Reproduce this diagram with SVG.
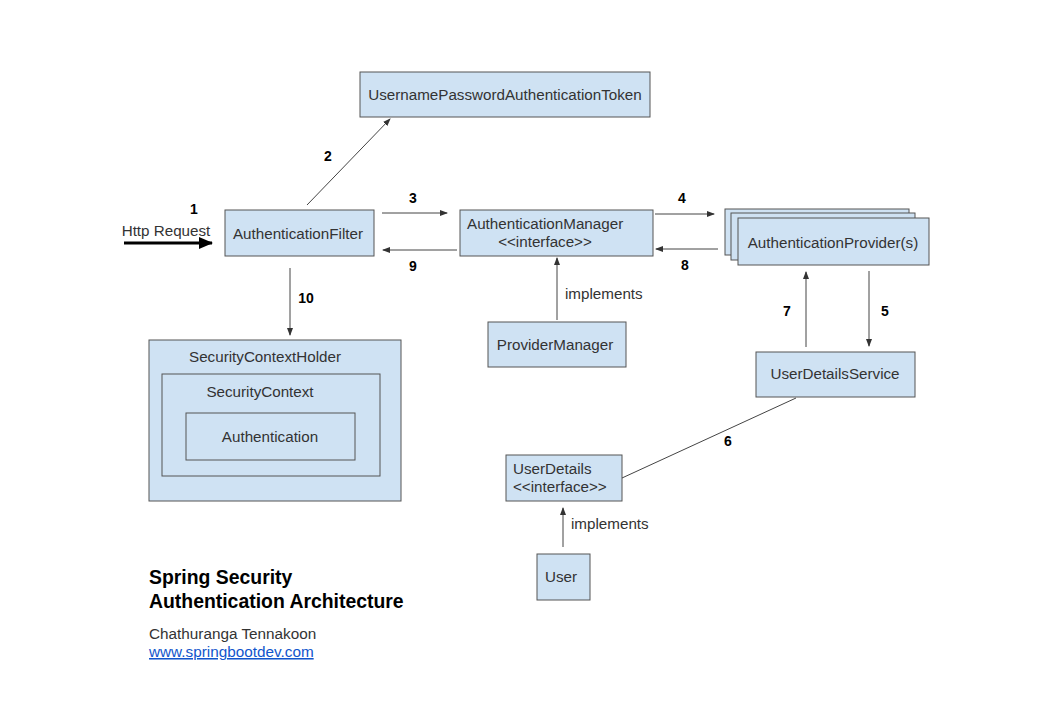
<svg xmlns="http://www.w3.org/2000/svg" width="1041" height="715" viewBox="0 0 1041 715">
<defs>
<marker id="ah" markerWidth="8" markerHeight="6" refX="7" refY="3" orient="auto" markerUnits="userSpaceOnUse">
<path d="M0,0 L8,3 L0,6 Z" fill="#333"/>
</marker>
<marker id="ahb" markerWidth="14" markerHeight="12" refX="13" refY="6" orient="auto" markerUnits="userSpaceOnUse">
<path d="M0,0 L14,6 L0,12 Z" fill="#000"/>
</marker>
<style>
.box{fill:#cfe2f3;stroke:#555;stroke-width:1}
.t{font-family:"Liberation Sans",Arial,sans-serif;font-size:15.2px;fill:#333}
.c{text-anchor:middle}
.n{font-family:"Liberation Sans",Arial,sans-serif;font-size:14px;font-weight:bold;fill:#000;text-anchor:middle}
.ln{stroke:#444;stroke-width:1;fill:none}
.h{font-family:"Liberation Sans",Arial,sans-serif;font-size:19.4px;font-weight:bold;fill:#000}
.s{font-family:"Liberation Sans",Arial,sans-serif;font-size:15.3px;fill:#333}
</style>
</defs>
<rect width="1041" height="715" fill="#fff"/>

<g id="token">
<rect class="box" x="360" y="72" width="290" height="45"/>
<text class="t c" x="505" y="100">UsernamePasswordAuthenticationToken</text>
</g>
<g id="authFilter">
<rect class="box" x="225" y="210" width="149" height="46"/>
<text class="t c" x="298" y="239">AuthenticationFilter</text>
</g>
<g id="authManager">
<rect class="box" x="460" y="210" width="193" height="46"/>
<text class="t" x="467" y="229">AuthenticationManager</text>
<text class="t c" x="545" y="247">&lt;&lt;interface&gt;&gt;</text>
</g>
<g id="authProvider">
<rect class="box" x="725" y="209" width="184" height="46"/>
<rect class="box" x="731" y="213" width="184" height="47"/>
<rect class="box" x="738" y="218" width="191" height="47"/>
<text class="t c" x="833" y="248">AuthenticationProvider(s)</text>
</g>
<g id="providerManager">
<rect class="box" x="488" y="322" width="138" height="45"/>
<text class="t c" x="555" y="350">ProviderManager</text>
</g>
<g id="userDetailsService">
<rect class="box" x="756" y="352" width="159" height="45"/>
<text class="t c" x="835" y="379">UserDetailsService</text>
</g>
<g id="userDetails">
<rect class="box" x="506" y="455" width="116" height="46"/>
<text class="t" x="513" y="474">UserDetails</text>
<text class="t" x="513" y="492">&lt;&lt;interface&gt;&gt;</text>
</g>
<g id="user">
<rect class="box" x="537" y="554" width="53" height="46"/>
<text class="t c" x="561" y="582">User</text>
</g>
<g id="securityContextHolder">
<rect class="box" x="149" y="340" width="252" height="161"/>
<text class="t c" x="265" y="362">SecurityContextHolder</text>
<g id="securityContext">
<rect class="box" x="162" y="374" width="218" height="102"/>
<text class="t c" x="260" y="397">SecurityContext</text>
<g id="authentication">
<rect class="box" x="186" y="413" width="169" height="47"/>
<text class="t c" x="270" y="442">Authentication</text>
</g>
</g>
</g>

<g id="connectors">
<line x1="124" y1="243" x2="212" y2="243" stroke="#000" stroke-width="3" marker-end="url(#ahb)"/>
<line class="ln" x1="307" y1="205" x2="390" y2="119" marker-end="url(#ah)"/>
<line class="ln" x1="382" y1="213" x2="447" y2="213" marker-end="url(#ah)"/>
<line class="ln" x1="457" y1="250" x2="383" y2="250" marker-end="url(#ah)"/>
<line class="ln" x1="655" y1="214" x2="714" y2="214" marker-end="url(#ah)"/>
<line class="ln" x1="718" y1="249" x2="656" y2="249" marker-end="url(#ah)"/>
<line class="ln" x1="557" y1="320" x2="557" y2="258" marker-end="url(#ah)"/>
<line class="ln" x1="290" y1="268" x2="290" y2="335" marker-end="url(#ah)"/>
<line class="ln" x1="869" y1="271" x2="869" y2="346" marker-end="url(#ah)"/>
<line class="ln" x1="806" y1="347" x2="806" y2="272" marker-end="url(#ah)"/>
<line class="ln" x1="796" y1="398" x2="622" y2="478"/>
<line class="ln" x1="563" y1="547" x2="563" y2="508" marker-end="url(#ah)"/>
</g>

<g id="labels">
<text class="n" x="194" y="214">1</text>
<text class="t c" x="166" y="236">Http Request</text>
<text class="n" x="328" y="161">2</text>
<text class="n" x="413" y="203">3</text>
<text class="n" x="682" y="203">4</text>
<text class="n" x="885" y="316">5</text>
<text class="n" x="728" y="446">6</text>
<text class="n" x="787" y="316">7</text>
<text class="n" x="685" y="270">8</text>
<text class="n" x="413" y="271">9</text>
<text class="n" x="306" y="303">10</text>
<text class="t" x="565" y="299">implements</text>
<text class="t" x="571" y="529">implements</text>
</g>

<g id="title">
<text class="h" x="149" y="584">Spring Security</text>
<text class="h" x="149" y="608">Authentication Architecture</text>
<text class="s" x="149" y="639">Chathuranga Tennakoon</text>
<text class="s" x="149" y="657" fill="#1155cc" style="fill:#1155cc" text-decoration="underline">www.springbootdev.com</text>
</g>
</svg>
